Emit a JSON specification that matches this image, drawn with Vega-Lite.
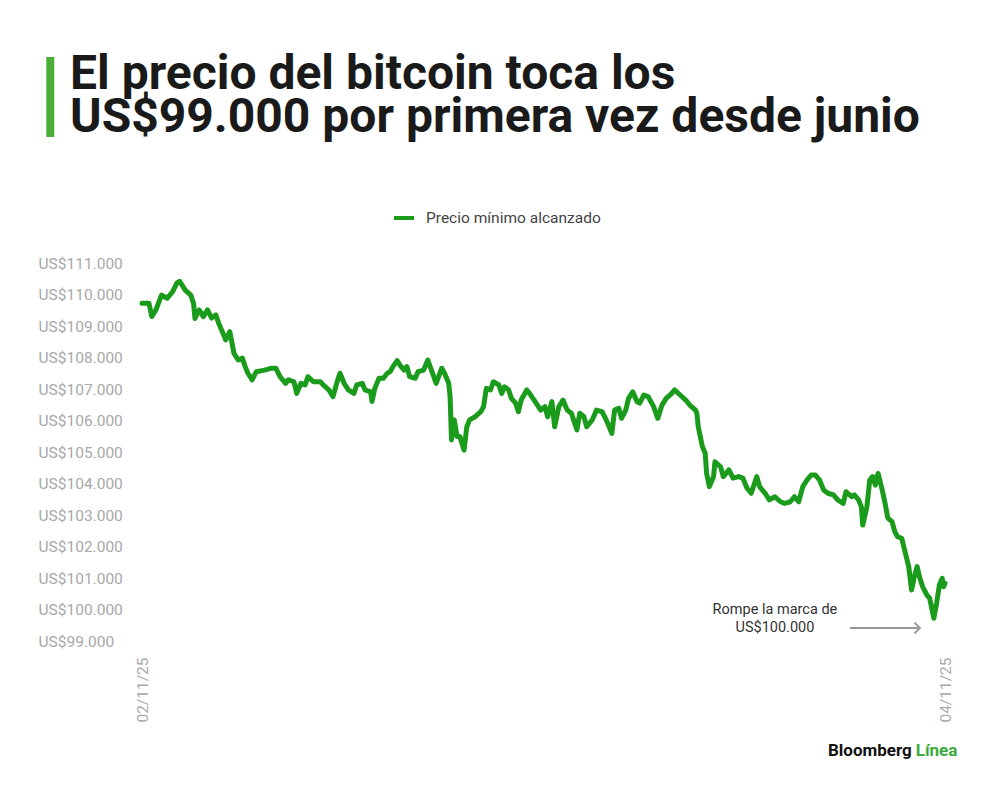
{
  "$schema": "https://vega.github.io/schema/vega-lite/v6.json",
  "autosize": {"type": "none"},
  "width": 803,
  "height": 378,
  "padding": {"left": 142, "top": 263, "right": 55, "bottom": 149},
  "background": "#ffffff",
  "view": {"stroke": null},
  "title": {
    "text": ["El precio del bitcoin toca los", "US$99.000 por primera vez desde junio"],
    "anchor": "start",
    "frame": "group",
    "dx": -72,
    "dy": 255,
    "offset": 128,
    "baseline": "alphabetic",
    "font": "Roboto",
    "fontSize": 48,
    "fontWeight": "bold",
    "lineHeight": 43,
    "color": "#1a1a1a"
  },
  "config": {
    "font": "Roboto",
    "axis": {"grid": false, "domain": false, "ticks": false, "labelColor": "#a8a8a8", "labelFontSize": 15.5, "labelOverlap": false, "title": null}
  },
  "resolve": {"axis": {"x": "independent", "y": "independent"}},
  "datasets": {
    "btc": [
      {"t": "2025-11-02T00:00", "p": 109720}, {"t": "2025-11-02T00:25", "p": 109720}, {"t": "2025-11-02T00:35", "p": 109300},
      {"t": "2025-11-02T00:50", "p": 109510}, {"t": "2025-11-02T01:10", "p": 109980}, {"t": "2025-11-02T01:30", "p": 109880},
      {"t": "2025-11-02T01:50", "p": 110090}, {"t": "2025-11-02T02:05", "p": 110360}, {"t": "2025-11-02T02:15", "p": 110420},
      {"t": "2025-11-02T02:35", "p": 110140}, {"t": "2025-11-02T02:55", "p": 109980}, {"t": "2025-11-02T03:05", "p": 109720},
      {"t": "2025-11-02T03:10", "p": 109240}, {"t": "2025-11-02T03:25", "p": 109510}, {"t": "2025-11-02T03:40", "p": 109300},
      {"t": "2025-11-02T03:55", "p": 109510}, {"t": "2025-11-02T04:10", "p": 109250}, {"t": "2025-11-02T04:25", "p": 109350},
      {"t": "2025-11-02T04:35", "p": 109090}, {"t": "2025-11-02T04:50", "p": 108780}, {"t": "2025-11-02T05:00", "p": 108560},
      {"t": "2025-11-02T05:15", "p": 108820}, {"t": "2025-11-02T05:30", "p": 108130}, {"t": "2025-11-02T05:45", "p": 107920},
      {"t": "2025-11-02T06:00", "p": 107980}, {"t": "2025-11-02T06:10", "p": 107710}, {"t": "2025-11-02T06:20", "p": 107500},
      {"t": "2025-11-02T06:35", "p": 107290}, {"t": "2025-11-02T06:50", "p": 107550}, {"t": "2025-11-02T07:20", "p": 107600},
      {"t": "2025-11-02T07:45", "p": 107660}, {"t": "2025-11-02T08:00", "p": 107660}, {"t": "2025-11-02T08:15", "p": 107390},
      {"t": "2025-11-02T08:35", "p": 107180}, {"t": "2025-11-02T08:45", "p": 107290}, {"t": "2025-11-02T09:05", "p": 107230},
      {"t": "2025-11-02T09:15", "p": 106860}, {"t": "2025-11-02T09:30", "p": 107180}, {"t": "2025-11-02T09:45", "p": 107130},
      {"t": "2025-11-02T09:55", "p": 107390}, {"t": "2025-11-02T10:15", "p": 107230}, {"t": "2025-11-02T10:40", "p": 107230},
      {"t": "2025-11-02T10:50", "p": 107130}, {"t": "2025-11-02T11:10", "p": 106970}, {"t": "2025-11-02T11:25", "p": 106760},
      {"t": "2025-11-02T11:40", "p": 107230}, {"t": "2025-11-02T11:50", "p": 107500}, {"t": "2025-11-02T12:05", "p": 107180},
      {"t": "2025-11-02T12:20", "p": 106970}, {"t": "2025-11-02T12:40", "p": 106860}, {"t": "2025-11-02T12:50", "p": 107130},
      {"t": "2025-11-02T13:10", "p": 107180}, {"t": "2025-11-02T13:20", "p": 106970}, {"t": "2025-11-02T13:40", "p": 106910},
      {"t": "2025-11-02T13:45", "p": 106600}, {"t": "2025-11-02T13:55", "p": 107020}, {"t": "2025-11-02T14:10", "p": 107340},
      {"t": "2025-11-02T14:25", "p": 107340}, {"t": "2025-11-02T14:40", "p": 107500}, {"t": "2025-11-02T14:50", "p": 107550},
      {"t": "2025-11-02T15:00", "p": 107710}, {"t": "2025-11-02T15:15", "p": 107900}, {"t": "2025-11-02T15:25", "p": 107760},
      {"t": "2025-11-02T15:40", "p": 107600}, {"t": "2025-11-02T15:50", "p": 107710}, {"t": "2025-11-02T16:00", "p": 107390},
      {"t": "2025-11-02T16:20", "p": 107340}, {"t": "2025-11-02T16:30", "p": 107550}, {"t": "2025-11-02T16:50", "p": 107600},
      {"t": "2025-11-02T17:05", "p": 107920}, {"t": "2025-11-02T17:20", "p": 107550}, {"t": "2025-11-02T17:35", "p": 107180},
      {"t": "2025-11-02T17:55", "p": 107660}, {"t": "2025-11-02T18:05", "p": 107500}, {"t": "2025-11-02T18:20", "p": 107180},
      {"t": "2025-11-02T18:25", "p": 106760}, {"t": "2025-11-02T18:30", "p": 105380}, {"t": "2025-11-02T18:40", "p": 106020},
      {"t": "2025-11-02T18:50", "p": 105490}, {"t": "2025-11-02T19:00", "p": 105490}, {"t": "2025-11-02T19:15", "p": 105060},
      {"t": "2025-11-02T19:25", "p": 105800}, {"t": "2025-11-02T19:35", "p": 106020}, {"t": "2025-11-02T19:55", "p": 106120},
      {"t": "2025-11-02T20:15", "p": 106280}, {"t": "2025-11-02T20:25", "p": 106440}, {"t": "2025-11-02T20:35", "p": 107020},
      {"t": "2025-11-02T20:50", "p": 106970}, {"t": "2025-11-02T21:00", "p": 107230}, {"t": "2025-11-02T21:20", "p": 107130},
      {"t": "2025-11-02T21:30", "p": 106860}, {"t": "2025-11-02T21:40", "p": 107070}, {"t": "2025-11-02T21:55", "p": 106970},
      {"t": "2025-11-02T22:05", "p": 106700}, {"t": "2025-11-02T22:20", "p": 106550}, {"t": "2025-11-02T22:30", "p": 106280},
      {"t": "2025-11-02T22:40", "p": 106650}, {"t": "2025-11-02T23:00", "p": 106970}, {"t": "2025-11-02T23:10", "p": 106860},
      {"t": "2025-11-02T23:30", "p": 106600}, {"t": "2025-11-02T23:50", "p": 106330},
      {"t": "2025-11-03T00:05", "p": 106440}, {"t": "2025-11-03T00:15", "p": 106120}, {"t": "2025-11-03T00:30", "p": 106600},
      {"t": "2025-11-03T00:40", "p": 105800}, {"t": "2025-11-03T00:55", "p": 106440}, {"t": "2025-11-03T01:10", "p": 106650},
      {"t": "2025-11-03T01:25", "p": 106330}, {"t": "2025-11-03T01:40", "p": 106230}, {"t": "2025-11-03T02:00", "p": 105700},
      {"t": "2025-11-03T02:10", "p": 106230}, {"t": "2025-11-03T02:25", "p": 106120}, {"t": "2025-11-03T02:35", "p": 105800},
      {"t": "2025-11-03T02:55", "p": 106020}, {"t": "2025-11-03T03:10", "p": 106330}, {"t": "2025-11-03T03:30", "p": 106280},
      {"t": "2025-11-03T03:45", "p": 106020}, {"t": "2025-11-03T04:05", "p": 105590}, {"t": "2025-11-03T04:15", "p": 106330},
      {"t": "2025-11-03T04:30", "p": 106390}, {"t": "2025-11-03T04:40", "p": 106070}, {"t": "2025-11-03T04:55", "p": 106330},
      {"t": "2025-11-03T05:05", "p": 106700}, {"t": "2025-11-03T05:20", "p": 106910}, {"t": "2025-11-03T05:35", "p": 106600},
      {"t": "2025-11-03T05:45", "p": 106550}, {"t": "2025-11-03T06:00", "p": 106810}, {"t": "2025-11-03T06:15", "p": 106760},
      {"t": "2025-11-03T06:35", "p": 106440}, {"t": "2025-11-03T06:50", "p": 106070}, {"t": "2025-11-03T07:05", "p": 106490},
      {"t": "2025-11-03T07:20", "p": 106700}, {"t": "2025-11-03T07:40", "p": 106860}, {"t": "2025-11-03T07:50", "p": 106970},
      {"t": "2025-11-03T08:10", "p": 106810}, {"t": "2025-11-03T08:30", "p": 106650}, {"t": "2025-11-03T08:45", "p": 106490},
      {"t": "2025-11-03T09:05", "p": 106330}, {"t": "2025-11-03T09:10", "p": 106230}, {"t": "2025-11-03T09:15", "p": 105800},
      {"t": "2025-11-03T09:30", "p": 105170}, {"t": "2025-11-03T09:40", "p": 104960}, {"t": "2025-11-03T09:45", "p": 104320},
      {"t": "2025-11-03T09:55", "p": 103900}, {"t": "2025-11-03T10:10", "p": 104220}, {"t": "2025-11-03T10:15", "p": 104690},
      {"t": "2025-11-03T10:35", "p": 104530}, {"t": "2025-11-03T10:45", "p": 104220}, {"t": "2025-11-03T11:05", "p": 104430},
      {"t": "2025-11-03T11:20", "p": 104170}, {"t": "2025-11-03T11:40", "p": 104220}, {"t": "2025-11-03T11:55", "p": 104170},
      {"t": "2025-11-03T12:10", "p": 103850}, {"t": "2025-11-03T12:25", "p": 103690}, {"t": "2025-11-03T12:45", "p": 104220},
      {"t": "2025-11-03T12:55", "p": 103900}, {"t": "2025-11-03T13:15", "p": 103690}, {"t": "2025-11-03T13:30", "p": 103480},
      {"t": "2025-11-03T13:50", "p": 103580}, {"t": "2025-11-03T14:10", "p": 103420}, {"t": "2025-11-03T14:25", "p": 103370},
      {"t": "2025-11-03T14:45", "p": 103420}, {"t": "2025-11-03T15:00", "p": 103580}, {"t": "2025-11-03T15:15", "p": 103420},
      {"t": "2025-11-03T15:30", "p": 103900}, {"t": "2025-11-03T15:45", "p": 104110}, {"t": "2025-11-03T16:00", "p": 104270},
      {"t": "2025-11-03T16:15", "p": 104270}, {"t": "2025-11-03T16:30", "p": 104110}, {"t": "2025-11-03T16:45", "p": 103790},
      {"t": "2025-11-03T17:00", "p": 103690}, {"t": "2025-11-03T17:20", "p": 103640}, {"t": "2025-11-03T17:35", "p": 103480},
      {"t": "2025-11-03T17:55", "p": 103370}, {"t": "2025-11-03T18:05", "p": 103740}, {"t": "2025-11-03T18:25", "p": 103580},
      {"t": "2025-11-03T18:35", "p": 103640}, {"t": "2025-11-03T18:50", "p": 103480}, {"t": "2025-11-03T19:00", "p": 103260},
      {"t": "2025-11-03T19:05", "p": 102680}, {"t": "2025-11-03T19:20", "p": 103260}, {"t": "2025-11-03T19:30", "p": 104110},
      {"t": "2025-11-03T19:40", "p": 104220}, {"t": "2025-11-03T19:50", "p": 103950}, {"t": "2025-11-03T20:00", "p": 104320},
      {"t": "2025-11-03T20:15", "p": 103790}, {"t": "2025-11-03T20:25", "p": 103370}, {"t": "2025-11-03T20:35", "p": 102900},
      {"t": "2025-11-03T20:50", "p": 102790}, {"t": "2025-11-03T21:00", "p": 102470}, {"t": "2025-11-03T21:10", "p": 102310},
      {"t": "2025-11-03T21:25", "p": 102260}, {"t": "2025-11-03T21:35", "p": 101890}, {"t": "2025-11-03T21:50", "p": 101360},
      {"t": "2025-11-03T22:00", "p": 100620}, {"t": "2025-11-03T22:10", "p": 101040}, {"t": "2025-11-03T22:20", "p": 101360},
      {"t": "2025-11-03T22:30", "p": 100990}, {"t": "2025-11-03T22:40", "p": 100720}, {"t": "2025-11-03T22:55", "p": 100460},
      {"t": "2025-11-03T23:05", "p": 100360}, {"t": "2025-11-03T23:20", "p": 99720}, {"t": "2025-11-03T23:30", "p": 100200},
      {"t": "2025-11-03T23:40", "p": 100780}, {"t": "2025-11-03T23:50", "p": 100990}, {"t": "2025-11-03T23:55", "p": 100720},
      {"t": "2025-11-04T00:00", "p": 100830}
    ]
  },
  "layer": [
    {
      "data": {"name": "btc"},
      "mark": {"type": "line", "strokeWidth": 5, "strokeJoin": "round", "strokeCap": "round"},
      "encoding": {
        "x": {
          "field": "t", "type": "temporal",
          "scale": {"domain": [{"year": 2025, "month": 11, "date": 2}, {"year": 2025, "month": 11, "date": 4}]},
          "axis": {
            "values": [{"year": 2025, "month": 11, "date": 2}, {"year": 2025, "month": 11, "date": 4}],
            "format": "%d/%m/%y", "labelAngle": 270, "labelPadding": 16, "labelFlush": false
          }
        },
        "y": {
          "field": "p", "type": "quantitative",
          "scale": {"domain": [99000, 111000], "zero": false, "nice": false},
          "axis": {
            "values": [99000, 100000, 101000, 102000, 103000, 104000, 105000, 106000, 107000, 108000, 109000, 110000, 111000],
            "labelExpr": "'US$' + replace(format(datum.value, ',.0f'), ',', '.')",
            "labelAlign": "left", "labelPadding": 104, "labelOverlap": false
          }
        },
        "color": {
          "datum": "Precio mínimo alcanzado",
          "scale": {"range": ["#1b9b1b"]},
          "legend": {
            "title": null, "orient": "none", "legendX": 250, "legendY": -57,
            "symbolType": "stroke", "symbolStrokeWidth": 4, "symbolSize": 400,
            "labelFontSize": 15.5, "labelColor": "#444444", "labelOffset": 10, "labelLimit": 400
          }
        }
      }
    },
    {
      "data": {"values": [{}]},
      "mark": {"type": "text", "align": "center", "baseline": "middle", "fontSize": 14.5, "lineHeight": 18, "color": "#333333"},
      "encoding": {
        "x": {"datum": {"year": 2025, "month": 11, "date": 3, "hours": 13, "minutes": 50}, "type": "temporal", "axis": null},
        "y": {"datum": 99980, "type": "quantitative", "axis": null},
        "text": {"value": ["Rompe la marca de", "US$100.000"]}
      }
    },
    {
      "data": {"values": [{}]},
      "mark": {"type": "rule", "color": "#999999", "strokeWidth": 2},
      "encoding": {
        "x": {"datum": {"year": 2025, "month": 11, "date": 3, "hours": 18, "minutes": 19}, "type": "temporal", "axis": null},
        "x2": {"datum": {"year": 2025, "month": 11, "date": 3, "hours": 22, "minutes": 25}},
        "y": {"datum": 99410, "type": "quantitative", "axis": null}
      }
    },
    {
      "data": {"values": [{}]},
      "mark": {"type": "point", "shape": "M-1,-1L0,0L-1,1", "filled": false, "color": "#999999", "strokeWidth": 2, "size": 120, "opacity": 1},
      "encoding": {
        "x": {"datum": {"year": 2025, "month": 11, "date": 3, "hours": 22, "minutes": 30}, "type": "temporal", "axis": null},
        "y": {"datum": 99410, "type": "quantitative", "axis": null}
      }
    },
    {
      "data": {"values": [{}]},
      "mark": {"type": "rule", "color": "#4caf3a", "strokeWidth": 8},
      "encoding": {
        "x": {"datum": {"year": 2025, "month": 11, "date": 1, "hours": 18, "minutes": 31}, "type": "temporal", "axis": null},
        "y": {"datum": 117540, "type": "quantitative", "axis": null},
        "y2": {"datum": 115000}
      }
    },
    {
      "data": {"values": [{}]},
      "mark": {"type": "text", "align": "right", "baseline": "alphabetic", "fontSize": 17, "fontWeight": "bold", "color": "#111111"},
      "encoding": {
        "x": {"datum": {"year": 2025, "month": 11, "date": 3, "hours": 22, "minutes": 1}, "type": "temporal", "axis": null},
        "y": {"datum": 95350, "type": "quantitative", "axis": null},
        "text": {"value": "Bloomberg"}
      }
    },
    {
      "data": {"values": [{}]},
      "mark": {"type": "text", "align": "left", "baseline": "alphabetic", "fontSize": 17, "fontWeight": "bold", "color": "#3aab3a"},
      "encoding": {
        "x": {"datum": {"year": 2025, "month": 11, "date": 3, "hours": 22, "minutes": 15}, "type": "temporal", "axis": null},
        "y": {"datum": 95350, "type": "quantitative", "axis": null},
        "text": {"value": "Línea"}
      }
    }
  ]
}
